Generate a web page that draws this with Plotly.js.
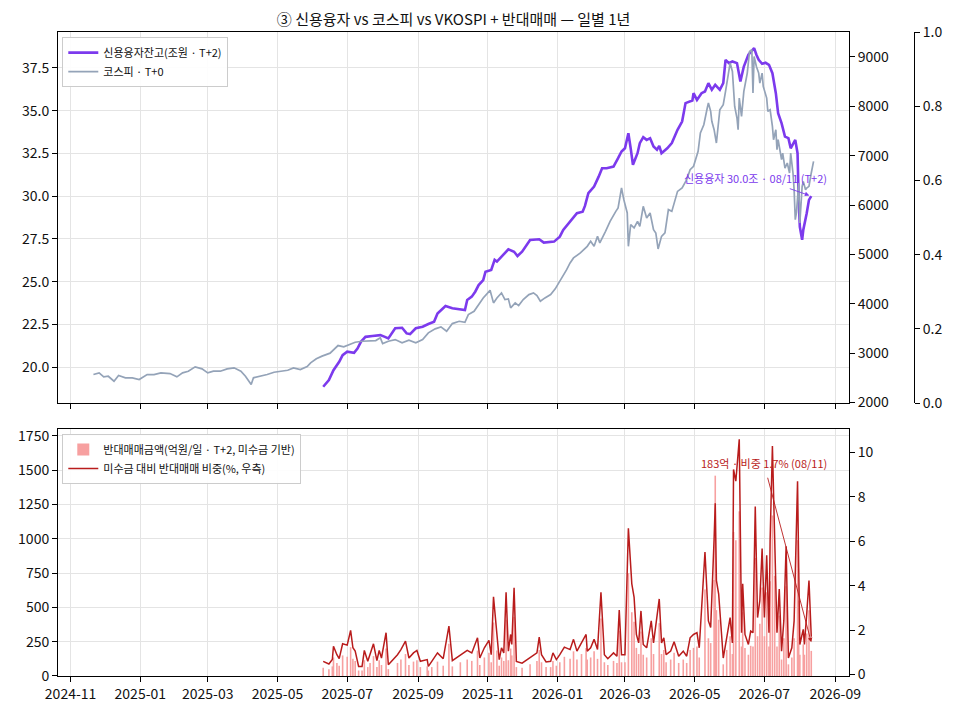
<!DOCTYPE html>
<html>
<head>
<meta charset="utf-8">
<script src="https://cdn.plot.ly/plotly-3.0.1.min.js"></script>
<style>
  html, body { margin: 0; padding: 0; background: #fff; }
  #chart { width: 956px; height: 714px; }
</style>
</head>
<body>
<div id="chart"></div>
<script>
// ---- 신용융자잔고 (조원, T+2) ----
const creditDates = ["2025-06-10","2025-06-15","2025-06-19","2025-06-24","2025-06-27","2025-07-01","2025-07-07","2025-07-10","2025-07-13","2025-07-17","2025-07-23","2025-07-30","2025-08-03","2025-08-06","2025-08-12","2025-08-18","2025-08-22","2025-08-25","2025-08-30","2025-09-05","2025-09-10","2025-09-15","2025-09-18","2025-09-25","2025-10-01","2025-10-07","2025-10-12","2025-10-14","2025-10-18","2025-10-21","2025-10-24","2025-10-28","2025-10-30","2025-11-04","2025-11-07","2025-11-09","2025-11-14","2025-11-19","2025-11-24","2025-11-27","2025-12-01","2025-12-08","2025-12-16","2025-12-20","2025-12-29","2026-01-03","2026-01-06","2026-01-12","2026-01-18","2026-01-23","2026-01-25","2026-01-28","2026-02-02","2026-02-06","2026-02-09","2026-02-13","2026-02-19","2026-02-23","2026-02-26","2026-03-01","2026-03-04","2026-03-06","2026-03-08","2026-03-12","2026-03-14","2026-03-17","2026-03-20","2026-03-23","2026-03-26","2026-03-29","2026-03-31","2026-04-02","2026-04-07","2026-04-11","2026-04-16","2026-04-20","2026-04-23","2026-04-29","2026-04-30","2026-05-03","2026-05-07","2026-05-10","2026-05-13","2026-05-16","2026-05-19","2026-05-23","2026-05-26","2026-05-28","2026-05-31","2026-06-03","2026-06-07","2026-06-10","2026-06-13","2026-06-17","2026-06-22","2026-06-24","2026-06-26","2026-06-29","2026-07-02","2026-07-05","2026-07-08","2026-07-11","2026-07-13","2026-07-16","2026-07-19","2026-07-22","2026-07-24","2026-07-28","2026-07-30","2026-07-31","2026-08-01","2026-08-03","2026-08-04","2026-08-07","2026-08-09","2026-08-11"];
const creditVals = [18.85,19.24,19.82,20.31,20.70,20.90,20.84,21.09,21.48,21.77,21.82,21.87,21.77,21.68,22.27,22.30,21.97,21.93,22.27,22.36,22.52,22.65,23.14,23.57,23.44,23.38,23.34,23.92,24.12,24.41,24.80,25.09,25.58,25.68,26.27,26.17,26.56,26.89,26.75,26.50,26.75,27.44,27.48,27.28,27.34,27.63,28.02,28.51,29.00,29.09,29.43,30.17,30.56,31.14,31.63,31.63,31.73,32.22,32.61,32.80,33.68,32.80,31.83,32.51,33.10,33.45,33.29,33.39,32.90,32.71,32.94,32.51,32.80,33.10,33.88,34.36,35.44,35.59,36.02,35.63,36.02,36.12,36.61,36.22,36.51,36.22,36.61,37.97,37.78,37.88,37.78,36.71,37.58,38.27,38.66,38.27,37.97,37.74,37.80,37.68,37.19,36.02,34.85,34.27,33.48,33.39,32.80,33.29,32.51,29.78,28.21,27.44,28.02,29.00,29.78,30.00];

// ---- 코스피 (T+0) ----
const kospiDates = ["2024-11-21","2024-11-26","2024-11-30","2024-12-04","2024-12-09","2024-12-13","2024-12-19","2024-12-25","2024-12-31","2025-01-07","2025-01-13","2025-01-19","2025-01-27","2025-02-02","2025-02-07","2025-02-12","2025-02-18","2025-02-24","2025-03-01","2025-03-06","2025-03-12","2025-03-18","2025-03-24","2025-03-30","2025-04-03","2025-04-06","2025-04-08","2025-04-10","2025-04-16","2025-04-22","2025-04-28","2025-05-10","2025-05-15","2025-05-21","2025-05-27","2025-05-30","2025-06-04","2025-06-09","2025-06-16","2025-06-23","2025-06-28","2025-07-04","2025-07-08","2025-07-14","2025-07-20","2025-07-26","2025-07-30","2025-08-01","2025-08-06","2025-08-12","2025-08-18","2025-08-24","2025-08-30","2025-09-05","2025-09-10","2025-09-16","2025-09-21","2025-09-26","2025-10-01","2025-10-07","2025-10-12","2025-10-15","2025-10-20","2025-10-24","2025-10-28","2025-11-03","2025-11-06","2025-11-09","2025-11-13","2025-11-16","2025-11-19","2025-11-21","2025-11-25","2025-11-28","2025-12-02","2025-12-07","2025-12-11","2025-12-14","2025-12-17","2025-12-21","2025-12-26","2025-12-30","2026-01-04","2026-01-09","2026-01-12","2026-01-15","2026-01-21","2026-01-27","2026-01-30","2026-02-02","2026-02-05","2026-02-07","2026-02-12","2026-02-16","2026-02-21","2026-02-23","2026-02-26","2026-02-28","2026-03-03","2026-03-04","2026-03-06","2026-03-09","2026-03-12","2026-03-14","2026-03-17","2026-03-20","2026-03-23","2026-03-26","2026-03-28","2026-03-30","2026-04-02","2026-04-05","2026-04-08","2026-04-11","2026-04-16","2026-04-20","2026-04-24","2026-04-27","2026-04-30","2026-05-04","2026-05-06","2026-05-09","2026-05-12","2026-05-13","2026-05-15","2026-05-16","2026-05-18","2026-05-19","2026-05-20","2026-05-23","2026-05-26","2026-05-28","2026-05-31","2026-06-01","2026-06-03","2026-06-04","2026-06-05","2026-06-07","2026-06-08","2026-06-09","2026-06-11","2026-06-13","2026-06-16","2026-06-18","2026-06-20","2026-06-21","2026-06-22","2026-06-24","2026-06-26","2026-06-27","2026-06-29","2026-06-30","2026-07-03","2026-07-04","2026-07-06","2026-07-08","2026-07-09","2026-07-11","2026-07-12","2026-07-13","2026-07-16","2026-07-17","2026-07-19","2026-07-21","2026-07-23","2026-07-24","2026-07-26","2026-07-27","2026-07-28","2026-07-29","2026-07-31","2026-08-01","2026-08-03","2026-08-04","2026-08-06","2026-08-07","2026-08-09","2026-08-11","2026-08-13"];
const kospiVals = [2567,2601,2520,2532,2431,2547,2500,2500,2466,2567,2567,2601,2587,2520,2601,2634,2723,2682,2601,2634,2634,2682,2702,2634,2532,2431,2364,2500,2532,2567,2613,2654,2702,2668,2729,2803,2885,2940,3000,3154,3127,3174,3221,3241,3255,3255,3310,3194,3241,3275,3208,3261,3208,3275,3411,3492,3532,3443,3599,3646,3626,3781,3848,3984,4119,4273,4018,4119,4220,4085,4099,3917,4018,3964,4085,4186,4220,4166,4051,4119,4186,4302,4490,4692,4828,4929,5030,5164,5265,5164,5366,5233,5468,5670,5872,5941,6346,6109,5840,5164,5603,5536,5670,5569,5974,5739,5840,5502,5435,5111,5366,5435,5907,5872,6277,6346,6514,6717,6784,7088,7460,7628,7966,8067,7898,7696,7527,7391,7257,7931,8032,8302,8775,8876,8707,8336,7998,7763,7527,8167,7796,8302,8674,9111,9146,8269,9010,8808,8674,8471,8674,8403,8167,7898,7931,7594,7324,7527,7121,7324,6919,7054,6750,6852,6650,7054,6650,6312,5704,5840,6447,5637,6379,6480,6312,6346,6379,6650,6885];

// ---- 반대매매 (억원/일, T+2) 및 미수금 대비 비중 (%) ----
const rtDates = ["2025-06-10","2025-06-15","2025-06-18","2025-06-19","2025-06-22","2025-06-24","2025-06-27","2025-07-01","2025-07-04","2025-07-06","2025-07-08","2025-07-11","2025-07-14","2025-07-16","2025-07-19","2025-07-21","2025-07-24","2025-07-27","2025-07-29","2025-07-31","2025-08-04","2025-08-06","2025-08-14","2025-08-17","2025-08-21","2025-08-24","2025-08-28","2025-08-31","2025-09-03","2025-09-09","2025-09-10","2025-09-13","2025-09-18","2025-09-23","2025-09-28","2025-10-01","2025-10-08","2025-10-14","2025-10-18","2025-10-23","2025-10-25","2025-10-29","2025-11-02","2025-11-04","2025-11-06","2025-11-09","2025-11-11","2025-11-13","2025-11-15","2025-11-17","2025-11-19","2025-11-21","2025-11-22","2025-11-24","2025-11-26","2025-12-01","2025-12-08","2025-12-14","2025-12-16","2025-12-18","2025-12-22","2025-12-26","2025-12-28","2025-12-31","2026-01-03","2026-01-07","2026-01-12","2026-01-15","2026-01-18","2026-01-22","2026-01-26","2026-01-27","2026-01-30","2026-02-02","2026-02-05","2026-02-08","2026-02-11","2026-02-14","2026-02-19","2026-02-22","2026-02-24","2026-02-26","2026-03-01","2026-03-04","2026-03-07","2026-03-09","2026-03-11","2026-03-13","2026-03-15","2026-03-17","2026-03-20","2026-03-24","2026-03-26","2026-03-31","2026-04-02","2026-04-04","2026-04-06","2026-04-10","2026-04-13","2026-04-17","2026-04-21","2026-04-24","2026-04-27","2026-04-30","2026-05-03","2026-05-05","2026-05-10","2026-05-13","2026-05-15","2026-05-18","2026-05-19","2026-05-20","2026-05-22","2026-05-26","2026-05-29","2026-06-01","2026-06-03","2026-06-04","2026-06-06","2026-06-09","2026-06-11","2026-06-12","2026-06-14","2026-06-17","2026-06-19","2026-06-21","2026-06-23","2026-06-25","2026-06-27","2026-06-29","2026-07-01","2026-07-03","2026-07-05","2026-07-06","2026-07-08","2026-07-10","2026-07-12","2026-07-14","2026-07-16","2026-07-18","2026-07-20","2026-07-22","2026-07-25","2026-07-27","2026-07-30","2026-07-31","2026-08-01","2026-08-04","2026-08-05","2026-08-07","2026-08-09","2026-08-11"];
const rtAmount = [60,50,70,135,95,75,150,140,210,125,110,40,40,115,65,95,145,65,115,80,200,50,95,120,160,80,105,115,65,70,40,65,105,75,235,70,100,120,110,185,80,135,170,100,390,185,75,135,110,410,115,200,150,430,65,60,85,110,190,100,65,65,110,75,100,140,125,180,120,160,205,120,135,180,125,420,100,80,110,95,330,100,100,750,465,395,205,160,325,155,135,275,160,385,160,190,100,120,170,95,120,95,190,205,215,135,630,275,240,700,1460,480,410,85,190,290,160,1050,990,1200,215,465,205,155,220,215,860,290,380,645,290,610,215,690,1170,730,215,440,120,275,655,85,135,275,990,550,155,230,155,310,480,183];
const rtPct = [0.59,0.47,0.67,1.27,0.89,0.71,1.38,1.32,1.98,1.20,1.05,0.36,0.36,1.08,0.59,0.89,1.38,0.62,1.08,0.74,1.88,0.44,0.89,1.12,1.50,0.74,0.97,1.08,0.59,0.67,0.36,0.59,0.97,0.71,2.18,0.62,0.89,1.08,0.97,1.65,0.74,1.20,1.53,0.89,3.50,1.65,0.67,1.20,0.97,3.70,1.05,1.80,1.35,3.90,0.59,0.51,0.74,0.97,1.68,0.89,0.56,0.59,0.97,0.67,0.89,1.23,1.12,1.58,1.05,1.42,1.80,1.05,1.20,1.58,1.12,3.70,0.89,0.71,0.97,0.82,2.90,0.89,0.89,6.58,4.08,3.47,1.80,1.42,2.86,1.35,1.20,2.41,1.42,3.40,1.42,1.65,0.89,1.05,1.47,0.82,1.05,0.82,1.65,1.80,1.88,1.20,5.51,2.41,2.11,6.12,7.71,4.23,3.62,0.74,1.65,2.56,1.42,9.23,8.70,10.59,1.88,4.08,1.80,1.35,1.95,1.88,7.56,2.56,3.32,5.67,2.56,5.36,1.88,6.05,10.29,6.42,1.88,3.85,1.05,2.41,5.77,0.74,1.20,2.41,8.70,4.83,1.35,2.03,1.35,2.71,4.23,1.70];

// ---- labels ----
const titleText = "③ 신용융자 vs 코스피 vs VKOSPI + 반대매매 — 일별 1년";
const creditName = "신용융자잔고(조원 · T+2)";
const kospiName = "코스피 · T+0";
const amtName = "반대매매금액(억원/일 · T+2, 미수금 기반)";
const pctName = "미수금 대비 반대매매 비중(%, 우측)";
const creditNote = "신용융자 30.0조 · 08/11 (T+2)";
const rtNote = "183억 · 비중 1.7% (08/11)";

const FONT = "'Noto Sans CJK KR', 'Noto Sans', sans-serif";
const PURPLE = "#7c3aed", GRAY = "#94a3b8", RED = "#b91c1c", PINK = "#f7a0a0";
const GRID = "#e4e4e4";
const XRANGE = ["2024-10-21", "2026-09-13"];
const XDOM = [0, 0.9219];
const lastCreditDate = creditDates[creditDates.length - 1];
const lastCredit = creditVals[creditVals.length - 1];
const lastRtDate = rtDates[rtDates.length - 1];

const traces = [
  { x: creditDates, y: creditVals, type: "scatter", mode: "lines", name: creditName,
    xaxis: "x", yaxis: "y", line: { color: PURPLE, width: 2.6 }, legend: "legend" },
  { x: kospiDates, y: kospiVals, type: "scatter", mode: "lines", name: kospiName,
    xaxis: "x", yaxis: "y2", line: { color: GRAY, width: 1.7 }, legend: "legend" },
  { x: [creditDates[0]], y: [null], type: "scatter", mode: "lines", showlegend: false,
    xaxis: "x", yaxis: "y5", hoverinfo: "skip" },
  { x: rtDates, y: rtAmount, type: "bar", name: amtName, xaxis: "x2", yaxis: "y3",
    marker: { color: PINK, line: { width: 0 } }, width: 1.4 * 86400000, legend: "legend2" },
  { x: rtDates, y: rtPct, type: "scatter", mode: "lines", name: pctName,
    xaxis: "x2", yaxis: "y4", line: { color: RED, width: 1.5 }, legend: "legend2" }
];

const axisCommon = {
  showline: true, linecolor: "#000", linewidth: 1, ticks: "outside", ticklen: 5,
  tickcolor: "#000", tickwidth: 1, tickfont: { family: FONT, size: 14, color: "#111" },
  zeroline: false
};

const layout = {
  width: 956, height: 714,
  margin: { l: 58, r: 40, t: 32, b: 38 },
  paper_bgcolor: "#fff", plot_bgcolor: "#fff",
  font: { family: FONT, color: "#111" },
  title: { text: titleText, font: { family: FONT, size: 15, color: "#111" },
           xref: "paper", x: 0.461, xanchor: "center", yref: "container", y: 0.973, yanchor: "middle" },
  showlegend: true,
  barmode: "overlay",
  xaxis: Object.assign({}, axisCommon, {
    domain: XDOM, anchor: "y", type: "date", range: XRANGE, dtick: "M2", tick0: "2024-11-01",
    showticklabels: false, mirror: true, showgrid: true, gridcolor: GRID
  }),
  yaxis: Object.assign({}, axisCommon, {
    domain: [0.4239, 1], anchor: "x", range: [17.9, 39.6], dtick: 2.5, tick0: 20, tickformat: ".1f",
    mirror: true, showgrid: true, gridcolor: GRID
  }),
  yaxis2: Object.assign({}, axisCommon, {
    overlaying: "y", side: "right", anchor: "x", range: [1990, 9506], dtick: 1000, tick0: 2000,
    tickformat: "d", showgrid: false
  }),
  yaxis5: Object.assign({}, axisCommon, {
    overlaying: "y", side: "right", anchor: "free", position: 0.9977, range: [0, 1], dtick: 0.2,
    tickformat: ".1f", showgrid: false
  }),
  xaxis2: Object.assign({}, axisCommon, {
    domain: XDOM, anchor: "y3", type: "date", range: XRANGE, dtick: "M2", tick0: "2024-11-01",
    tickformat: "%Y-%m", mirror: true, showgrid: true, gridcolor: GRID
  }),
  yaxis3: Object.assign({}, axisCommon, {
    domain: [0, 0.3835], anchor: "x2", range: [0, 1800], dtick: 250, tick0: 0,
    mirror: true, showgrid: true, gridcolor: GRID
  }),
  yaxis4: Object.assign({}, axisCommon, {
    overlaying: "y3", side: "right", anchor: "x2", range: [-0.07, 11.05],
    tickvals: [0, 2, 4, 6, 8, 10], showgrid: false
  }),
  legend: {
    x: 0.005, y: 0.992, xref: "paper", yref: "paper", xanchor: "left", yanchor: "top",
    bgcolor: "rgba(255,255,255,0.9)", bordercolor: "#cccccc", borderwidth: 1,
    font: { family: FONT, size: 11, color: "#111" }, itemwidth: 30, tracegroupgap: 0
  },
  legend2: {
    x: 0.005, y: 0.3758, xref: "paper", yref: "paper", xanchor: "left", yanchor: "top",
    bgcolor: "rgba(255,255,255,0.9)", bordercolor: "#cccccc", borderwidth: 1,
    font: { family: FONT, size: 11, color: "#111" }, itemwidth: 30, tracegroupgap: 0
  },
  annotations: [
    { xref: "x", yref: "y", x: "2026-06-23", y: 31.07, text: creditNote, showarrow: false,
      font: { family: FONT, size: 11, color: PURPLE }, xanchor: "center", yanchor: "middle" },
    { xref: "x", yref: "y", x: lastCreditDate, y: lastCredit, text: "", showarrow: true,
      ax: -23, ay: -8, arrowcolor: PURPLE, arrowwidth: 0.9, arrowhead: 2, arrowsize: 1, standoff: 2 },
    { xref: "x2", yref: "y4", x: "2026-07-01", y: 9.5, text: rtNote, showarrow: false,
      font: { family: FONT, size: 11, color: RED }, xanchor: "center", yanchor: "middle" },
    { xref: "x2", yref: "y4", x: lastRtDate, y: 1.45, text: "", showarrow: true,
      ax: -44, ay: -166, arrowcolor: RED, arrowwidth: 0.9, arrowhead: 2, arrowsize: 1, standoff: 0 }
  ]
};

Plotly.newPlot("chart", traces, layout, { staticPlot: true, displayModeBar: false });
</script>
</body>
</html>
